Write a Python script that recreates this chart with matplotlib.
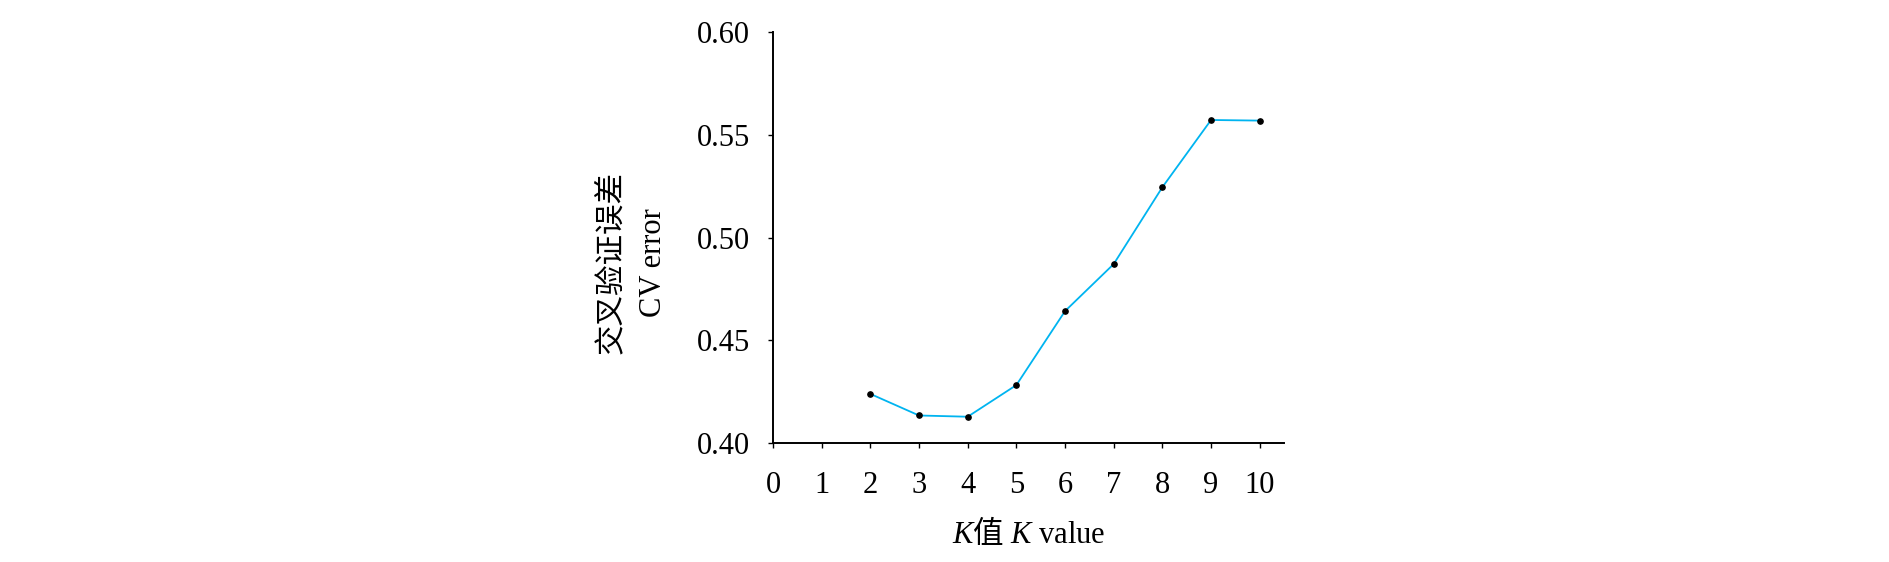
import matplotlib
matplotlib.use("Agg")
import matplotlib.pyplot as plt
import numpy as np

# Datos
k_vals = [2, 3, 4, 5, 6, 7, 8, 9, 10]
cv_error = [0.4239, 0.4134, 0.4128, 0.4282, 0.4642, 0.4871, 0.5245, 0.5572, 0.5569]
x_ticks = list(range(0, 11))
y_ticks = [0.40, 0.45, 0.50, 0.55, 0.60]

plt.rcParams['font.family'] = ['Liberation Serif', 'Noto Sans CJK SC']
plt.rcParams['mathtext.fontset'] = 'custom'
plt.rcParams['mathtext.rm'] = 'Liberation Serif'
plt.rcParams['mathtext.it'] = 'Liberation Serif:italic'
plt.rcParams['mathtext.sf'] = 'Noto Sans CJK SC'

fig = plt.figure(figsize=(18.9, 5.62), dpi=100)
ax = fig.add_axes([0.409, 0.2117, 0.2704, 0.7313])

ax.plot(k_vals, cv_error, color="#00B4F0", linewidth=1.3,
        marker="o", markersize=3.8, markerfacecolor="black",
        markeredgecolor="black")

ax.set_xlim(0, 10.5)
ax.set_ylim(0.40, 0.60)
ax.set_xticks(x_ticks)
ax.set_yticks(y_ticks)
ax.set_yticklabels([f"{v:.2f}" for v in y_ticks])

for s in ["top", "right"]:
    ax.spines[s].set_visible(False)
for s in ["left", "bottom"]:
    ax.spines[s].set_linewidth(1.4)

ax.tick_params(axis="both", direction="out", length=3.5, width=1.0,
               labelsize=22)
ax.tick_params(axis="y", pad=13)
ax.tick_params(axis="x", pad=17)

ax.set_ylabel("交叉验证误差\nCV error", fontsize=22, linespacing=1.6)
ax.yaxis.set_label_coords(-0.206, 0.44)
ax.set_xlabel(r"$\mathit{K}\mathsf{值}\ \mathit{K}\ \mathrm{value}$", fontsize=22)
ax.xaxis.set_label_coords(0.5, -0.18)

fig.savefig("out.png", dpi=100)
